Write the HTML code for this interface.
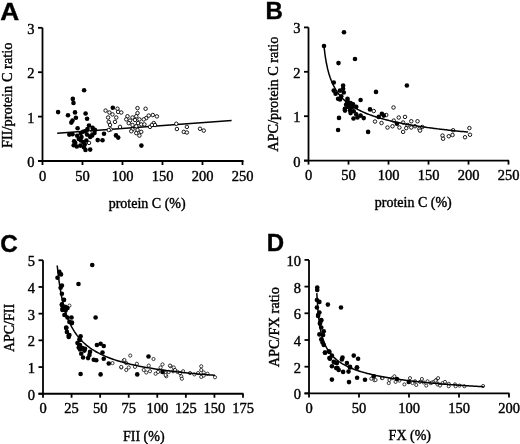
<!DOCTYPE html><html><head><meta charset="utf-8"><style>html,body{margin:0;padding:0;background:#fff;}svg{display:block;filter:grayscale(1);}text{font-family:"Liberation Serif",serif;fill:#000;stroke:#000;stroke-width:0.4px;}.pl{font-family:"Liberation Sans",sans-serif;font-weight:bold;}</style></head><body>
<svg width="520" height="444" viewBox="0 0 520 444">
<rect width="520" height="444" fill="#fff"/>
<text class="pl" transform="translate(0.3,19.6) scale(1.08,1)" font-size="24.3">A</text>
<text class="pl" x="265.5" y="19.4" font-size="24">B</text>
<text class="pl" x="0.2" y="252.1" font-size="24.3">C</text>
<text class="pl" x="266.7" y="251.3" font-size="24">D</text>
<line x1="42.5" y1="27.80000000000001" x2="42.5" y2="161" stroke="#000" stroke-width="1.8"/>
<line x1="38.0" y1="161" x2="243.5" y2="161" stroke="#000" stroke-width="1.8"/>
<line x1="38.0" y1="161.0" x2="42.5" y2="161.0" stroke="#000" stroke-width="1.8"/>
<line x1="38.0" y1="116.6" x2="42.5" y2="116.6" stroke="#000" stroke-width="1.8"/>
<line x1="38.0" y1="72.2" x2="42.5" y2="72.2" stroke="#000" stroke-width="1.8"/>
<line x1="38.0" y1="27.80000000000001" x2="42.5" y2="27.80000000000001" stroke="#000" stroke-width="1.8"/>
<line x1="42.5" y1="161" x2="42.5" y2="165" stroke="#000" stroke-width="1.8"/>
<line x1="82.5" y1="161" x2="82.5" y2="165" stroke="#000" stroke-width="1.8"/>
<line x1="122.5" y1="161" x2="122.5" y2="165" stroke="#000" stroke-width="1.8"/>
<line x1="162.5" y1="161" x2="162.5" y2="165" stroke="#000" stroke-width="1.8"/>
<line x1="202.5" y1="161" x2="202.5" y2="165" stroke="#000" stroke-width="1.8"/>
<line x1="242.5" y1="161" x2="242.5" y2="165" stroke="#000" stroke-width="1.8"/>
<text x="34.5" y="167.0" text-anchor="end" font-size="14.5">0</text>
<text x="34.5" y="122.6" text-anchor="end" font-size="14.5">1</text>
<text x="34.5" y="78.2" text-anchor="end" font-size="14.5">2</text>
<text x="34.5" y="33.80000000000001" text-anchor="end" font-size="14.5">3</text>
<text x="42.5" y="180.6" text-anchor="middle" font-size="14.5">0</text>
<text x="82.5" y="180.6" text-anchor="middle" font-size="14.5">50</text>
<text x="122.5" y="180.6" text-anchor="middle" font-size="14.5">100</text>
<text x="162.5" y="180.6" text-anchor="middle" font-size="14.5">150</text>
<text x="202.5" y="180.6" text-anchor="middle" font-size="14.5">200</text>
<text x="242.5" y="180.6" text-anchor="middle" font-size="14.5">250</text>
<line x1="308.5" y1="27.400000000000006" x2="308.5" y2="160.6" stroke="#000" stroke-width="1.8"/>
<line x1="304.0" y1="160.6" x2="509" y2="160.6" stroke="#000" stroke-width="1.8"/>
<line x1="304.0" y1="160.6" x2="308.5" y2="160.6" stroke="#000" stroke-width="1.8"/>
<line x1="304.0" y1="116.19999999999999" x2="308.5" y2="116.19999999999999" stroke="#000" stroke-width="1.8"/>
<line x1="304.0" y1="71.8" x2="308.5" y2="71.8" stroke="#000" stroke-width="1.8"/>
<line x1="304.0" y1="27.400000000000006" x2="308.5" y2="27.400000000000006" stroke="#000" stroke-width="1.8"/>
<line x1="308.5" y1="160.6" x2="308.5" y2="164.6" stroke="#000" stroke-width="1.8"/>
<line x1="348.5" y1="160.6" x2="348.5" y2="164.6" stroke="#000" stroke-width="1.8"/>
<line x1="388.5" y1="160.6" x2="388.5" y2="164.6" stroke="#000" stroke-width="1.8"/>
<line x1="428.5" y1="160.6" x2="428.5" y2="164.6" stroke="#000" stroke-width="1.8"/>
<line x1="468.5" y1="160.6" x2="468.5" y2="164.6" stroke="#000" stroke-width="1.8"/>
<line x1="508.5" y1="160.6" x2="508.5" y2="164.6" stroke="#000" stroke-width="1.8"/>
<text x="300.5" y="166.6" text-anchor="end" font-size="14.5">0</text>
<text x="300.5" y="122.19999999999999" text-anchor="end" font-size="14.5">1</text>
<text x="300.5" y="77.8" text-anchor="end" font-size="14.5">2</text>
<text x="300.5" y="33.400000000000006" text-anchor="end" font-size="14.5">3</text>
<text x="308.5" y="180.2" text-anchor="middle" font-size="14.5">0</text>
<text x="348.5" y="180.2" text-anchor="middle" font-size="14.5">50</text>
<text x="388.5" y="180.2" text-anchor="middle" font-size="14.5">100</text>
<text x="428.5" y="180.2" text-anchor="middle" font-size="14.5">150</text>
<text x="468.5" y="180.2" text-anchor="middle" font-size="14.5">200</text>
<text x="508.5" y="180.2" text-anchor="middle" font-size="14.5">250</text>
<line x1="43" y1="260.25" x2="43" y2="393.75" stroke="#000" stroke-width="1.8"/>
<line x1="38.5" y1="393.75" x2="243.5" y2="393.75" stroke="#000" stroke-width="1.8"/>
<line x1="38.5" y1="393.75" x2="43" y2="393.75" stroke="#000" stroke-width="1.8"/>
<line x1="38.5" y1="367.05" x2="43" y2="367.05" stroke="#000" stroke-width="1.8"/>
<line x1="38.5" y1="340.35" x2="43" y2="340.35" stroke="#000" stroke-width="1.8"/>
<line x1="38.5" y1="313.65" x2="43" y2="313.65" stroke="#000" stroke-width="1.8"/>
<line x1="38.5" y1="286.95" x2="43" y2="286.95" stroke="#000" stroke-width="1.8"/>
<line x1="38.5" y1="260.25" x2="43" y2="260.25" stroke="#000" stroke-width="1.8"/>
<line x1="43.0" y1="393.75" x2="43.0" y2="397.75" stroke="#000" stroke-width="1.8"/>
<line x1="71.57142857142857" y1="393.75" x2="71.57142857142857" y2="397.75" stroke="#000" stroke-width="1.8"/>
<line x1="100.14285714285714" y1="393.75" x2="100.14285714285714" y2="397.75" stroke="#000" stroke-width="1.8"/>
<line x1="128.71428571428572" y1="393.75" x2="128.71428571428572" y2="397.75" stroke="#000" stroke-width="1.8"/>
<line x1="157.28571428571428" y1="393.75" x2="157.28571428571428" y2="397.75" stroke="#000" stroke-width="1.8"/>
<line x1="185.85714285714286" y1="393.75" x2="185.85714285714286" y2="397.75" stroke="#000" stroke-width="1.8"/>
<line x1="214.42857142857142" y1="393.75" x2="214.42857142857142" y2="397.75" stroke="#000" stroke-width="1.8"/>
<line x1="243.0" y1="393.75" x2="243.0" y2="397.75" stroke="#000" stroke-width="1.8"/>
<text x="35" y="399.75" text-anchor="end" font-size="14.5">0</text>
<text x="35" y="373.05" text-anchor="end" font-size="14.5">1</text>
<text x="35" y="346.35" text-anchor="end" font-size="14.5">2</text>
<text x="35" y="319.65" text-anchor="end" font-size="14.5">3</text>
<text x="35" y="292.95" text-anchor="end" font-size="14.5">4</text>
<text x="35" y="266.25" text-anchor="end" font-size="14.5">5</text>
<text x="43.0" y="413.35" text-anchor="middle" font-size="14.5">0</text>
<text x="71.57142857142857" y="413.35" text-anchor="middle" font-size="14.5">25</text>
<text x="100.14285714285714" y="413.35" text-anchor="middle" font-size="14.5">50</text>
<text x="128.71428571428572" y="413.35" text-anchor="middle" font-size="14.5">75</text>
<text x="157.28571428571428" y="413.35" text-anchor="middle" font-size="14.5">100</text>
<text x="185.85714285714286" y="413.35" text-anchor="middle" font-size="14.5">125</text>
<text x="214.42857142857142" y="413.35" text-anchor="middle" font-size="14.5">150</text>
<text x="243.0" y="413.35" text-anchor="middle" font-size="14.5">175</text>
<line x1="309" y1="259.9" x2="309" y2="393.4" stroke="#000" stroke-width="1.8"/>
<line x1="304.5" y1="393.4" x2="509.5" y2="393.4" stroke="#000" stroke-width="1.8"/>
<line x1="304.5" y1="393.4" x2="309" y2="393.4" stroke="#000" stroke-width="1.8"/>
<line x1="304.5" y1="366.7" x2="309" y2="366.7" stroke="#000" stroke-width="1.8"/>
<line x1="304.5" y1="340.0" x2="309" y2="340.0" stroke="#000" stroke-width="1.8"/>
<line x1="304.5" y1="313.29999999999995" x2="309" y2="313.29999999999995" stroke="#000" stroke-width="1.8"/>
<line x1="304.5" y1="286.59999999999997" x2="309" y2="286.59999999999997" stroke="#000" stroke-width="1.8"/>
<line x1="304.5" y1="259.9" x2="309" y2="259.9" stroke="#000" stroke-width="1.8"/>
<line x1="309" y1="393.4" x2="309" y2="397.4" stroke="#000" stroke-width="1.8"/>
<line x1="359" y1="393.4" x2="359" y2="397.4" stroke="#000" stroke-width="1.8"/>
<line x1="409" y1="393.4" x2="409" y2="397.4" stroke="#000" stroke-width="1.8"/>
<line x1="459" y1="393.4" x2="459" y2="397.4" stroke="#000" stroke-width="1.8"/>
<line x1="509" y1="393.4" x2="509" y2="397.4" stroke="#000" stroke-width="1.8"/>
<text x="301" y="399.4" text-anchor="end" font-size="14.5">0</text>
<text x="301" y="372.7" text-anchor="end" font-size="14.5">2</text>
<text x="301" y="346.0" text-anchor="end" font-size="14.5">4</text>
<text x="301" y="319.29999999999995" text-anchor="end" font-size="14.5">6</text>
<text x="301" y="292.59999999999997" text-anchor="end" font-size="14.5">8</text>
<text x="301" y="265.9" text-anchor="end" font-size="14.5">10</text>
<text x="309" y="413.0" text-anchor="middle" font-size="14.5">0</text>
<text x="359" y="413.0" text-anchor="middle" font-size="14.5">50</text>
<text x="409" y="413.0" text-anchor="middle" font-size="14.5">100</text>
<text x="459" y="413.0" text-anchor="middle" font-size="14.5">150</text>
<text x="509" y="413.0" text-anchor="middle" font-size="14.5">200</text>
<text x="147.2" y="207.6" text-anchor="middle" font-size="14">protein C (%)</text>
<text x="413.3" y="207.3" text-anchor="middle" font-size="14">protein C (%)</text>
<text x="143.8" y="440.8" text-anchor="middle" font-size="14">FII (%)</text>
<text x="409.8" y="440.1" text-anchor="middle" font-size="14">FX (%)</text>
<text transform="translate(12.3,95.3) rotate(-90)" text-anchor="middle" font-size="14.4">FII/protein C ratio</text>
<text transform="translate(277.8,94.1) rotate(-90)" text-anchor="middle" font-size="14.3">APC/protein C ratio</text>
<text transform="translate(14.4,328) rotate(-90)" text-anchor="middle" font-size="14">APC/FII</text>
<text transform="translate(278.9,327.2) rotate(-90)" text-anchor="middle" font-size="14.4">APC/FX ratio</text>
<line x1="57.2" y1="133.2" x2="231.6" y2="120.5" stroke="#000" stroke-width="1.5"/>
<circle cx="89.0" cy="142.9" r="1.75" fill="#fff" stroke="#000" stroke-width="0.9"/>
<circle cx="105.6" cy="110.6" r="1.75" fill="#fff" stroke="#000" stroke-width="0.9"/>
<circle cx="109.4" cy="112.5" r="1.75" fill="#fff" stroke="#000" stroke-width="0.9"/>
<circle cx="117.5" cy="108.75" r="1.75" fill="#fff" stroke="#000" stroke-width="0.9"/>
<circle cx="118.1" cy="111.9" r="1.75" fill="#fff" stroke="#000" stroke-width="0.9"/>
<circle cx="121.25" cy="112.5" r="1.75" fill="#fff" stroke="#000" stroke-width="0.9"/>
<circle cx="112.5" cy="114.4" r="1.75" fill="#fff" stroke="#000" stroke-width="0.9"/>
<circle cx="108.1" cy="117.5" r="1.75" fill="#fff" stroke="#000" stroke-width="0.9"/>
<circle cx="116.25" cy="117.5" r="1.75" fill="#fff" stroke="#000" stroke-width="0.9"/>
<circle cx="108.75" cy="121.9" r="1.75" fill="#fff" stroke="#000" stroke-width="0.9"/>
<circle cx="115" cy="121.9" r="1.75" fill="#fff" stroke="#000" stroke-width="0.9"/>
<circle cx="110" cy="125" r="1.75" fill="#fff" stroke="#000" stroke-width="0.9"/>
<circle cx="120" cy="126.9" r="1.75" fill="#fff" stroke="#000" stroke-width="0.9"/>
<circle cx="110.6" cy="129.4" r="1.75" fill="#fff" stroke="#000" stroke-width="0.9"/>
<circle cx="108.75" cy="130" r="1.75" fill="#fff" stroke="#000" stroke-width="0.9"/>
<circle cx="137.5" cy="108.1" r="1.75" fill="#fff" stroke="#000" stroke-width="0.9"/>
<circle cx="145.6" cy="108.75" r="1.75" fill="#fff" stroke="#000" stroke-width="0.9"/>
<circle cx="137.5" cy="113.1" r="1.75" fill="#fff" stroke="#000" stroke-width="0.9"/>
<circle cx="127.5" cy="116.25" r="1.75" fill="#fff" stroke="#000" stroke-width="0.9"/>
<circle cx="132.5" cy="117.5" r="1.75" fill="#fff" stroke="#000" stroke-width="0.9"/>
<circle cx="136.25" cy="116.25" r="1.75" fill="#fff" stroke="#000" stroke-width="0.9"/>
<circle cx="126.25" cy="119.4" r="1.75" fill="#fff" stroke="#000" stroke-width="0.9"/>
<circle cx="130" cy="120.6" r="1.75" fill="#fff" stroke="#000" stroke-width="0.9"/>
<circle cx="135" cy="120" r="1.75" fill="#fff" stroke="#000" stroke-width="0.9"/>
<circle cx="139.4" cy="119.4" r="1.75" fill="#fff" stroke="#000" stroke-width="0.9"/>
<circle cx="128.75" cy="123.1" r="1.75" fill="#fff" stroke="#000" stroke-width="0.9"/>
<circle cx="132.5" cy="125" r="1.75" fill="#fff" stroke="#000" stroke-width="0.9"/>
<circle cx="138.1" cy="123.1" r="1.75" fill="#fff" stroke="#000" stroke-width="0.9"/>
<circle cx="141.25" cy="124.4" r="1.75" fill="#fff" stroke="#000" stroke-width="0.9"/>
<circle cx="136.25" cy="126.25" r="1.75" fill="#fff" stroke="#000" stroke-width="0.9"/>
<circle cx="132.5" cy="129.4" r="1.75" fill="#fff" stroke="#000" stroke-width="0.9"/>
<circle cx="131.25" cy="131.25" r="1.75" fill="#fff" stroke="#000" stroke-width="0.9"/>
<circle cx="137.5" cy="130" r="1.75" fill="#fff" stroke="#000" stroke-width="0.9"/>
<circle cx="141.25" cy="131.9" r="1.75" fill="#fff" stroke="#000" stroke-width="0.9"/>
<circle cx="136.25" cy="133.1" r="1.75" fill="#fff" stroke="#000" stroke-width="0.9"/>
<circle cx="139.4" cy="135.6" r="1.75" fill="#fff" stroke="#000" stroke-width="0.9"/>
<circle cx="144.4" cy="124.4" r="1.75" fill="#fff" stroke="#000" stroke-width="0.9"/>
<circle cx="146.25" cy="118.1" r="1.75" fill="#fff" stroke="#000" stroke-width="0.9"/>
<circle cx="148.75" cy="115.6" r="1.75" fill="#fff" stroke="#000" stroke-width="0.9"/>
<circle cx="152.8" cy="115" r="1.75" fill="#fff" stroke="#000" stroke-width="0.9"/>
<circle cx="156.9" cy="116.4" r="1.75" fill="#fff" stroke="#000" stroke-width="0.9"/>
<circle cx="150" cy="126.9" r="1.75" fill="#fff" stroke="#000" stroke-width="0.9"/>
<circle cx="153.75" cy="123.1" r="1.75" fill="#fff" stroke="#000" stroke-width="0.9"/>
<circle cx="155" cy="125" r="1.75" fill="#fff" stroke="#000" stroke-width="0.9"/>
<circle cx="143.75" cy="119.4" r="1.75" fill="#fff" stroke="#000" stroke-width="0.9"/>
<circle cx="151.9" cy="125" r="1.75" fill="#fff" stroke="#000" stroke-width="0.9"/>
<circle cx="176.25" cy="123.75" r="1.75" fill="#fff" stroke="#000" stroke-width="0.9"/>
<circle cx="176.9" cy="129" r="1.75" fill="#fff" stroke="#000" stroke-width="0.9"/>
<circle cx="186.9" cy="126.9" r="1.75" fill="#fff" stroke="#000" stroke-width="0.9"/>
<circle cx="183.75" cy="131.9" r="1.75" fill="#fff" stroke="#000" stroke-width="0.9"/>
<circle cx="186.9" cy="132.5" r="1.75" fill="#fff" stroke="#000" stroke-width="0.9"/>
<circle cx="200" cy="128.75" r="1.75" fill="#fff" stroke="#000" stroke-width="0.9"/>
<circle cx="203.75" cy="130.6" r="1.75" fill="#fff" stroke="#000" stroke-width="0.9"/>
<circle cx="84.1" cy="90.2" r="2.3" fill="#000"/>
<circle cx="72.8" cy="98.9" r="2.3" fill="#000"/>
<circle cx="73.5" cy="103" r="2.3" fill="#000"/>
<circle cx="58.1" cy="112.1" r="2.3" fill="#000"/>
<circle cx="68" cy="115.3" r="2.3" fill="#000"/>
<circle cx="75" cy="112.4" r="2.3" fill="#000"/>
<circle cx="85.6" cy="113.5" r="2.3" fill="#000"/>
<circle cx="75.9" cy="117.7" r="2.3" fill="#000"/>
<circle cx="87.1" cy="118.7" r="2.3" fill="#000"/>
<circle cx="72.5" cy="120.6" r="2.3" fill="#000"/>
<circle cx="104" cy="133.7" r="2.3" fill="#000"/>
<circle cx="102.5" cy="140.3" r="2.3" fill="#000"/>
<circle cx="112.8" cy="107.8" r="2.3" fill="#000"/>
<circle cx="116" cy="135.4" r="2.3" fill="#000"/>
<circle cx="118.2" cy="137.6" r="2.3" fill="#000"/>
<circle cx="141.4" cy="145.6" r="2.3" fill="#000"/>
<circle cx="71.3" cy="122.6" r="2.3" fill="#000"/>
<circle cx="77.6" cy="128.3" r="2.3" fill="#000"/>
<circle cx="69.3" cy="134.6" r="2.3" fill="#000"/>
<circle cx="72.5" cy="134.2" r="2.3" fill="#000"/>
<circle cx="89" cy="125.5" r="2.3" fill="#000"/>
<circle cx="92.6" cy="127.9" r="2.3" fill="#000"/>
<circle cx="94.9" cy="129.9" r="2.3" fill="#000"/>
<circle cx="94.5" cy="133" r="2.3" fill="#000"/>
<circle cx="92.2" cy="135.4" r="2.3" fill="#000"/>
<circle cx="90.2" cy="136.9" r="2.3" fill="#000"/>
<circle cx="87.1" cy="134.6" r="2.3" fill="#000"/>
<circle cx="85.5" cy="131" r="2.3" fill="#000"/>
<circle cx="87.5" cy="129" r="2.3" fill="#000"/>
<circle cx="83.1" cy="131.8" r="2.3" fill="#000"/>
<circle cx="80.8" cy="133" r="2.3" fill="#000"/>
<circle cx="77.2" cy="135.8" r="2.3" fill="#000"/>
<circle cx="78.8" cy="138.9" r="2.3" fill="#000"/>
<circle cx="74.1" cy="141.3" r="2.3" fill="#000"/>
<circle cx="80.8" cy="140.5" r="2.3" fill="#000"/>
<circle cx="83.1" cy="142.1" r="2.3" fill="#000"/>
<circle cx="84.7" cy="144.4" r="2.3" fill="#000"/>
<circle cx="73.7" cy="145.2" r="2.3" fill="#000"/>
<circle cx="76.8" cy="146.5" r="2.3" fill="#000"/>
<circle cx="80.4" cy="145.6" r="2.3" fill="#000"/>
<circle cx="83.9" cy="147.2" r="2.3" fill="#000"/>
<circle cx="85.5" cy="150" r="2.3" fill="#000"/>
<circle cx="90.2" cy="149.6" r="2.3" fill="#000"/>
<circle cx="75.2" cy="142.9" r="2.3" fill="#000"/>
<circle cx="97.7" cy="140.1" r="2.3" fill="#000"/>
<circle cx="81.5" cy="137" r="2.3" fill="#000"/>
<circle cx="86.3" cy="140.5" r="2.3" fill="#000"/>
<circle cx="89.6" cy="132.6" r="1.75" fill="#fff" stroke="#000" stroke-width="0.9"/>
<circle cx="393.5" cy="107.5" r="1.75" fill="#fff" stroke="#000" stroke-width="0.9"/>
<circle cx="373.75" cy="111" r="1.75" fill="#fff" stroke="#000" stroke-width="0.9"/>
<circle cx="386.25" cy="115" r="1.75" fill="#fff" stroke="#000" stroke-width="0.9"/>
<circle cx="375" cy="121.5" r="1.75" fill="#fff" stroke="#000" stroke-width="0.9"/>
<circle cx="381.5" cy="123" r="1.75" fill="#fff" stroke="#000" stroke-width="0.9"/>
<circle cx="387.5" cy="127.5" r="1.75" fill="#fff" stroke="#000" stroke-width="0.9"/>
<circle cx="392.5" cy="126.25" r="1.75" fill="#fff" stroke="#000" stroke-width="0.9"/>
<circle cx="398.75" cy="117.5" r="1.75" fill="#fff" stroke="#000" stroke-width="0.9"/>
<circle cx="405" cy="116.9" r="1.75" fill="#fff" stroke="#000" stroke-width="0.9"/>
<circle cx="393.75" cy="120.6" r="1.75" fill="#fff" stroke="#000" stroke-width="0.9"/>
<circle cx="403.1" cy="122.5" r="1.75" fill="#fff" stroke="#000" stroke-width="0.9"/>
<circle cx="399.4" cy="127.5" r="1.75" fill="#fff" stroke="#000" stroke-width="0.9"/>
<circle cx="403.1" cy="131.9" r="1.75" fill="#fff" stroke="#000" stroke-width="0.9"/>
<circle cx="406.25" cy="128.1" r="1.75" fill="#fff" stroke="#000" stroke-width="0.9"/>
<circle cx="411.25" cy="121.25" r="1.75" fill="#fff" stroke="#000" stroke-width="0.9"/>
<circle cx="417.5" cy="121.25" r="1.75" fill="#fff" stroke="#000" stroke-width="0.9"/>
<circle cx="411.25" cy="127.5" r="1.75" fill="#fff" stroke="#000" stroke-width="0.9"/>
<circle cx="415" cy="126.25" r="1.75" fill="#fff" stroke="#000" stroke-width="0.9"/>
<circle cx="419.4" cy="128.75" r="1.75" fill="#fff" stroke="#000" stroke-width="0.9"/>
<circle cx="422.3" cy="127" r="1.75" fill="#fff" stroke="#000" stroke-width="0.9"/>
<circle cx="420" cy="130.6" r="1.75" fill="#fff" stroke="#000" stroke-width="0.9"/>
<circle cx="407.5" cy="125" r="1.75" fill="#fff" stroke="#000" stroke-width="0.9"/>
<circle cx="453.1" cy="130.25" r="1.75" fill="#fff" stroke="#000" stroke-width="0.9"/>
<circle cx="442.5" cy="135.6" r="1.75" fill="#fff" stroke="#000" stroke-width="0.9"/>
<circle cx="443.1" cy="138.75" r="1.75" fill="#fff" stroke="#000" stroke-width="0.9"/>
<circle cx="448.75" cy="136.25" r="1.75" fill="#fff" stroke="#000" stroke-width="0.9"/>
<circle cx="452.5" cy="135" r="1.75" fill="#fff" stroke="#000" stroke-width="0.9"/>
<circle cx="465" cy="137.25" r="1.75" fill="#fff" stroke="#000" stroke-width="0.9"/>
<circle cx="469.4" cy="128.1" r="1.75" fill="#fff" stroke="#000" stroke-width="0.9"/>
<circle cx="470" cy="134.75" r="1.75" fill="#fff" stroke="#000" stroke-width="0.9"/>
<circle cx="344" cy="32.3" r="2.3" fill="#000"/>
<circle cx="324" cy="46" r="2.3" fill="#000"/>
<circle cx="338.5" cy="63.1" r="2.3" fill="#000"/>
<circle cx="355" cy="59" r="2.3" fill="#000"/>
<circle cx="376" cy="91.9" r="2.3" fill="#000"/>
<circle cx="406.9" cy="85.5" r="2.3" fill="#000"/>
<circle cx="333.75" cy="82.5" r="2.3" fill="#000"/>
<circle cx="343.1" cy="85.6" r="2.3" fill="#000"/>
<circle cx="343.1" cy="88.75" r="2.3" fill="#000"/>
<circle cx="340" cy="90.6" r="2.3" fill="#000"/>
<circle cx="333.75" cy="90.6" r="2.3" fill="#000"/>
<circle cx="335.6" cy="93.75" r="2.3" fill="#000"/>
<circle cx="343.75" cy="92.5" r="2.3" fill="#000"/>
<circle cx="341.25" cy="96.25" r="2.3" fill="#000"/>
<circle cx="338.1" cy="98.75" r="2.3" fill="#000"/>
<circle cx="340" cy="99.4" r="2.3" fill="#000"/>
<circle cx="347.5" cy="98.75" r="2.3" fill="#000"/>
<circle cx="360.6" cy="100" r="2.3" fill="#000"/>
<circle cx="346.9" cy="103.75" r="2.3" fill="#000"/>
<circle cx="350.6" cy="103.1" r="2.3" fill="#000"/>
<circle cx="353.1" cy="104.4" r="2.3" fill="#000"/>
<circle cx="348.1" cy="106.9" r="2.3" fill="#000"/>
<circle cx="351.9" cy="107.5" r="2.3" fill="#000"/>
<circle cx="356.25" cy="106.9" r="2.3" fill="#000"/>
<circle cx="345" cy="110.6" r="2.3" fill="#000"/>
<circle cx="350" cy="110.6" r="2.3" fill="#000"/>
<circle cx="353.75" cy="111.25" r="2.3" fill="#000"/>
<circle cx="350.6" cy="113.1" r="2.3" fill="#000"/>
<circle cx="339" cy="117.9" r="2.3" fill="#000"/>
<circle cx="353.5" cy="118.5" r="2.3" fill="#000"/>
<circle cx="357.5" cy="117.5" r="2.3" fill="#000"/>
<circle cx="360.6" cy="115.6" r="2.3" fill="#000"/>
<circle cx="363.75" cy="118.1" r="2.3" fill="#000"/>
<circle cx="356.25" cy="114.4" r="2.3" fill="#000"/>
<circle cx="370" cy="109.4" r="2.3" fill="#000"/>
<circle cx="381.9" cy="113.75" r="2.3" fill="#000"/>
<circle cx="378.75" cy="116.9" r="2.3" fill="#000"/>
<circle cx="383.75" cy="115.6" r="2.3" fill="#000"/>
<circle cx="338.1" cy="130" r="2.3" fill="#000"/>
<circle cx="368.1" cy="131.9" r="2.3" fill="#000"/>
<circle cx="396.9" cy="123.75" r="2.3" fill="#000"/>
<circle cx="346.1" cy="104.8" r="2.3" fill="#000"/>
<circle cx="347.5" cy="100.8" r="2.3" fill="#000"/>
<circle cx="344.8" cy="108.9" r="2.3" fill="#000"/>
<circle cx="69.4" cy="305.6" r="1.6" fill="#fff" stroke="#000" stroke-width="0.75"/>
<circle cx="112.5" cy="363.1" r="1.6" fill="#fff" stroke="#000" stroke-width="0.75"/>
<circle cx="121.25" cy="367.5" r="1.6" fill="#fff" stroke="#000" stroke-width="0.75"/>
<circle cx="123.75" cy="360.6" r="1.6" fill="#fff" stroke="#000" stroke-width="0.75"/>
<circle cx="130.25" cy="355.6" r="1.6" fill="#fff" stroke="#000" stroke-width="0.75"/>
<circle cx="153.5" cy="359" r="1.6" fill="#fff" stroke="#000" stroke-width="0.75"/>
<circle cx="124.4" cy="360" r="1.6" fill="#fff" stroke="#000" stroke-width="0.75"/>
<circle cx="126.25" cy="363.1" r="1.6" fill="#fff" stroke="#000" stroke-width="0.75"/>
<circle cx="121.25" cy="366.9" r="1.6" fill="#fff" stroke="#000" stroke-width="0.75"/>
<circle cx="126.25" cy="370" r="1.6" fill="#fff" stroke="#000" stroke-width="0.75"/>
<circle cx="128.75" cy="367.5" r="1.6" fill="#fff" stroke="#000" stroke-width="0.75"/>
<circle cx="135" cy="366.9" r="1.6" fill="#fff" stroke="#000" stroke-width="0.75"/>
<circle cx="136.9" cy="363.75" r="1.6" fill="#fff" stroke="#000" stroke-width="0.75"/>
<circle cx="143.75" cy="370" r="1.6" fill="#fff" stroke="#000" stroke-width="0.75"/>
<circle cx="146.25" cy="372.5" r="1.6" fill="#fff" stroke="#000" stroke-width="0.75"/>
<circle cx="148.75" cy="365.6" r="1.6" fill="#fff" stroke="#000" stroke-width="0.75"/>
<circle cx="150" cy="371.25" r="1.6" fill="#fff" stroke="#000" stroke-width="0.75"/>
<circle cx="155.6" cy="373.75" r="1.6" fill="#fff" stroke="#000" stroke-width="0.75"/>
<circle cx="158.1" cy="371.9" r="1.6" fill="#fff" stroke="#000" stroke-width="0.75"/>
<circle cx="160.6" cy="367.5" r="1.6" fill="#fff" stroke="#000" stroke-width="0.75"/>
<circle cx="162.5" cy="364.4" r="1.6" fill="#fff" stroke="#000" stroke-width="0.75"/>
<circle cx="165.6" cy="373.1" r="1.6" fill="#fff" stroke="#000" stroke-width="0.75"/>
<circle cx="166.25" cy="376.25" r="1.6" fill="#fff" stroke="#000" stroke-width="0.75"/>
<circle cx="170.6" cy="366.25" r="1.6" fill="#fff" stroke="#000" stroke-width="0.75"/>
<circle cx="173.75" cy="367.5" r="1.6" fill="#fff" stroke="#000" stroke-width="0.75"/>
<circle cx="173.1" cy="371.25" r="1.6" fill="#fff" stroke="#000" stroke-width="0.75"/>
<circle cx="170" cy="365.6" r="1.6" fill="#fff" stroke="#000" stroke-width="0.75"/>
<circle cx="168.75" cy="371.9" r="1.6" fill="#fff" stroke="#000" stroke-width="0.75"/>
<circle cx="165.6" cy="375" r="1.6" fill="#fff" stroke="#000" stroke-width="0.75"/>
<circle cx="175" cy="370" r="1.6" fill="#fff" stroke="#000" stroke-width="0.75"/>
<circle cx="177.5" cy="371.9" r="1.6" fill="#fff" stroke="#000" stroke-width="0.75"/>
<circle cx="180" cy="373.1" r="1.6" fill="#fff" stroke="#000" stroke-width="0.75"/>
<circle cx="183.1" cy="371.25" r="1.6" fill="#fff" stroke="#000" stroke-width="0.75"/>
<circle cx="181.25" cy="376.25" r="1.6" fill="#fff" stroke="#000" stroke-width="0.75"/>
<circle cx="181.9" cy="378.75" r="1.6" fill="#fff" stroke="#000" stroke-width="0.75"/>
<circle cx="190" cy="373.1" r="1.6" fill="#fff" stroke="#000" stroke-width="0.75"/>
<circle cx="194.4" cy="374.4" r="1.6" fill="#fff" stroke="#000" stroke-width="0.75"/>
<circle cx="198.1" cy="373.1" r="1.6" fill="#fff" stroke="#000" stroke-width="0.75"/>
<circle cx="201.25" cy="366.25" r="1.6" fill="#fff" stroke="#000" stroke-width="0.75"/>
<circle cx="201.25" cy="370" r="1.6" fill="#fff" stroke="#000" stroke-width="0.75"/>
<circle cx="203.75" cy="372.5" r="1.6" fill="#fff" stroke="#000" stroke-width="0.75"/>
<circle cx="201.25" cy="376.9" r="1.6" fill="#fff" stroke="#000" stroke-width="0.75"/>
<circle cx="203.75" cy="375.6" r="1.6" fill="#fff" stroke="#000" stroke-width="0.75"/>
<circle cx="207.5" cy="373.75" r="1.6" fill="#fff" stroke="#000" stroke-width="0.75"/>
<circle cx="215" cy="377.25" r="1.6" fill="#fff" stroke="#000" stroke-width="0.75"/>
<circle cx="92.25" cy="265" r="2.3" fill="#000"/>
<circle cx="78.5" cy="284" r="2.3" fill="#000"/>
<circle cx="59.4" cy="271.9" r="2.3" fill="#000"/>
<circle cx="61" cy="274.4" r="2.3" fill="#000"/>
<circle cx="57.5" cy="277.75" r="2.3" fill="#000"/>
<circle cx="61.9" cy="285.6" r="2.3" fill="#000"/>
<circle cx="60.6" cy="287.75" r="2.3" fill="#000"/>
<circle cx="61.9" cy="293.75" r="2.3" fill="#000"/>
<circle cx="63.75" cy="300" r="2.3" fill="#000"/>
<circle cx="61.9" cy="305" r="2.3" fill="#000"/>
<circle cx="65.6" cy="307.5" r="2.3" fill="#000"/>
<circle cx="62.5" cy="308.75" r="2.3" fill="#000"/>
<circle cx="64" cy="299.75" r="2.3" fill="#000"/>
<circle cx="61.9" cy="304.4" r="2.3" fill="#000"/>
<circle cx="65" cy="306.9" r="2.3" fill="#000"/>
<circle cx="67.5" cy="308.1" r="2.3" fill="#000"/>
<circle cx="62.5" cy="310" r="2.3" fill="#000"/>
<circle cx="65.6" cy="310.6" r="2.3" fill="#000"/>
<circle cx="64.4" cy="315" r="2.3" fill="#000"/>
<circle cx="67.5" cy="317.5" r="2.3" fill="#000"/>
<circle cx="71.5" cy="317.5" r="2.3" fill="#000"/>
<circle cx="69.4" cy="321.9" r="2.3" fill="#000"/>
<circle cx="71.9" cy="323.1" r="2.3" fill="#000"/>
<circle cx="66.25" cy="328.1" r="2.3" fill="#000"/>
<circle cx="66.9" cy="331.9" r="2.3" fill="#000"/>
<circle cx="69.4" cy="335" r="2.3" fill="#000"/>
<circle cx="68.75" cy="336.9" r="2.3" fill="#000"/>
<circle cx="95.6" cy="317.5" r="2.3" fill="#000"/>
<circle cx="80.6" cy="336.25" r="2.3" fill="#000"/>
<circle cx="79.4" cy="339.4" r="2.3" fill="#000"/>
<circle cx="77.5" cy="343.1" r="2.3" fill="#000"/>
<circle cx="80" cy="345" r="2.3" fill="#000"/>
<circle cx="78.75" cy="347.5" r="2.3" fill="#000"/>
<circle cx="82.5" cy="348.1" r="2.3" fill="#000"/>
<circle cx="96.9" cy="345" r="2.3" fill="#000"/>
<circle cx="100.6" cy="343.75" r="2.3" fill="#000"/>
<circle cx="103.75" cy="346" r="2.3" fill="#000"/>
<circle cx="71.9" cy="322.5" r="2.3" fill="#000"/>
<circle cx="66.25" cy="327.5" r="2.3" fill="#000"/>
<circle cx="68.75" cy="335.6" r="2.3" fill="#000"/>
<circle cx="80" cy="340" r="2.3" fill="#000"/>
<circle cx="79.4" cy="346.25" r="2.3" fill="#000"/>
<circle cx="80" cy="349.4" r="2.3" fill="#000"/>
<circle cx="85" cy="348.75" r="2.3" fill="#000"/>
<circle cx="84.4" cy="350.6" r="2.3" fill="#000"/>
<circle cx="90" cy="351.9" r="2.3" fill="#000"/>
<circle cx="89.4" cy="355" r="2.3" fill="#000"/>
<circle cx="88.1" cy="358.1" r="2.3" fill="#000"/>
<circle cx="81.25" cy="353.75" r="2.3" fill="#000"/>
<circle cx="83.1" cy="357.5" r="2.3" fill="#000"/>
<circle cx="93.75" cy="359.75" r="2.3" fill="#000"/>
<circle cx="96.25" cy="360.25" r="2.3" fill="#000"/>
<circle cx="102.5" cy="352.5" r="2.3" fill="#000"/>
<circle cx="103.75" cy="358.75" r="2.3" fill="#000"/>
<circle cx="108.75" cy="363.5" r="2.3" fill="#000"/>
<circle cx="80.6" cy="374" r="2.3" fill="#000"/>
<circle cx="100.6" cy="374.4" r="2.3" fill="#000"/>
<circle cx="148.5" cy="356.5" r="2.3" fill="#000"/>
<circle cx="137.25" cy="374.4" r="2.3" fill="#000"/>
<circle cx="162.5" cy="371.9" r="2.3" fill="#000"/>
<circle cx="374.4" cy="380.25" r="1.55" fill="#fff" stroke="#000" stroke-width="0.75"/>
<circle cx="371.25" cy="378.75" r="1.55" fill="#fff" stroke="#000" stroke-width="0.75"/>
<circle cx="381.9" cy="378.1" r="1.55" fill="#fff" stroke="#000" stroke-width="0.75"/>
<circle cx="375.6" cy="380" r="1.55" fill="#fff" stroke="#000" stroke-width="0.75"/>
<circle cx="382.5" cy="378.1" r="1.55" fill="#fff" stroke="#000" stroke-width="0.75"/>
<circle cx="389.4" cy="380" r="1.55" fill="#fff" stroke="#000" stroke-width="0.75"/>
<circle cx="388.75" cy="383.1" r="1.55" fill="#fff" stroke="#000" stroke-width="0.75"/>
<circle cx="392.5" cy="378.1" r="1.55" fill="#fff" stroke="#000" stroke-width="0.75"/>
<circle cx="394.4" cy="376.25" r="1.55" fill="#fff" stroke="#000" stroke-width="0.75"/>
<circle cx="395.6" cy="381.9" r="1.55" fill="#fff" stroke="#000" stroke-width="0.75"/>
<circle cx="399.4" cy="380.6" r="1.55" fill="#fff" stroke="#000" stroke-width="0.75"/>
<circle cx="404.4" cy="384.4" r="1.55" fill="#fff" stroke="#000" stroke-width="0.75"/>
<circle cx="410" cy="378.1" r="1.55" fill="#fff" stroke="#000" stroke-width="0.75"/>
<circle cx="412.5" cy="383.1" r="1.55" fill="#fff" stroke="#000" stroke-width="0.75"/>
<circle cx="416.25" cy="385" r="1.55" fill="#fff" stroke="#000" stroke-width="0.75"/>
<circle cx="420" cy="381.9" r="1.55" fill="#fff" stroke="#000" stroke-width="0.75"/>
<circle cx="421.9" cy="379" r="1.55" fill="#fff" stroke="#000" stroke-width="0.75"/>
<circle cx="423.75" cy="382.5" r="1.55" fill="#fff" stroke="#000" stroke-width="0.75"/>
<circle cx="426.25" cy="385.6" r="1.55" fill="#fff" stroke="#000" stroke-width="0.75"/>
<circle cx="427.5" cy="381.25" r="1.55" fill="#fff" stroke="#000" stroke-width="0.75"/>
<circle cx="430.6" cy="383.1" r="1.55" fill="#fff" stroke="#000" stroke-width="0.75"/>
<circle cx="433.75" cy="381.9" r="1.55" fill="#fff" stroke="#000" stroke-width="0.75"/>
<circle cx="436.25" cy="380" r="1.55" fill="#fff" stroke="#000" stroke-width="0.75"/>
<circle cx="438.1" cy="383.75" r="1.55" fill="#fff" stroke="#000" stroke-width="0.75"/>
<circle cx="415" cy="381.25" r="1.55" fill="#fff" stroke="#000" stroke-width="0.75"/>
<circle cx="431.9" cy="382.5" r="1.55" fill="#fff" stroke="#000" stroke-width="0.75"/>
<circle cx="435.6" cy="380.6" r="1.55" fill="#fff" stroke="#000" stroke-width="0.75"/>
<circle cx="438.1" cy="378.1" r="1.55" fill="#fff" stroke="#000" stroke-width="0.75"/>
<circle cx="437.5" cy="384.4" r="1.55" fill="#fff" stroke="#000" stroke-width="0.75"/>
<circle cx="440" cy="385.6" r="1.55" fill="#fff" stroke="#000" stroke-width="0.75"/>
<circle cx="442.5" cy="383.1" r="1.55" fill="#fff" stroke="#000" stroke-width="0.75"/>
<circle cx="445" cy="381.9" r="1.55" fill="#fff" stroke="#000" stroke-width="0.75"/>
<circle cx="448.75" cy="383.75" r="1.55" fill="#fff" stroke="#000" stroke-width="0.75"/>
<circle cx="448.75" cy="386.25" r="1.55" fill="#fff" stroke="#000" stroke-width="0.75"/>
<circle cx="455" cy="384.4" r="1.55" fill="#fff" stroke="#000" stroke-width="0.75"/>
<circle cx="455.6" cy="386.25" r="1.55" fill="#fff" stroke="#000" stroke-width="0.75"/>
<circle cx="459.4" cy="385.6" r="1.55" fill="#fff" stroke="#000" stroke-width="0.75"/>
<circle cx="464.4" cy="386.25" r="1.55" fill="#fff" stroke="#000" stroke-width="0.75"/>
<circle cx="483.1" cy="386" r="1.55" fill="#fff" stroke="#000" stroke-width="0.75"/>
<circle cx="317.25" cy="287.5" r="2.3" fill="#000"/>
<circle cx="317.25" cy="290" r="2.3" fill="#000"/>
<circle cx="316.9" cy="300" r="2.3" fill="#000"/>
<circle cx="319.4" cy="301.9" r="2.3" fill="#000"/>
<circle cx="316.9" cy="307.5" r="2.3" fill="#000"/>
<circle cx="319.4" cy="312.5" r="2.3" fill="#000"/>
<circle cx="318.1" cy="315" r="2.3" fill="#000"/>
<circle cx="321.25" cy="320" r="2.3" fill="#000"/>
<circle cx="320" cy="323.1" r="2.3" fill="#000"/>
<circle cx="327.9" cy="304.6" r="2.3" fill="#000"/>
<circle cx="341" cy="307.5" r="2.3" fill="#000"/>
<circle cx="318.1" cy="316" r="2.3" fill="#000"/>
<circle cx="321.25" cy="320.6" r="2.3" fill="#000"/>
<circle cx="320" cy="323.75" r="2.3" fill="#000"/>
<circle cx="321.25" cy="327.5" r="2.3" fill="#000"/>
<circle cx="323.75" cy="331.25" r="2.3" fill="#000"/>
<circle cx="319.4" cy="334.4" r="2.3" fill="#000"/>
<circle cx="323.1" cy="335" r="2.3" fill="#000"/>
<circle cx="321.25" cy="339.4" r="2.3" fill="#000"/>
<circle cx="322.5" cy="342.5" r="2.3" fill="#000"/>
<circle cx="323.75" cy="345" r="2.3" fill="#000"/>
<circle cx="325" cy="352.5" r="2.3" fill="#000"/>
<circle cx="329.4" cy="351.9" r="2.3" fill="#000"/>
<circle cx="331.9" cy="355.6" r="2.3" fill="#000"/>
<circle cx="330" cy="358.75" r="2.3" fill="#000"/>
<circle cx="333.75" cy="361.9" r="2.3" fill="#000"/>
<circle cx="336.9" cy="363.1" r="2.3" fill="#000"/>
<circle cx="331.9" cy="366.25" r="2.3" fill="#000"/>
<circle cx="337.5" cy="368.1" r="2.3" fill="#000"/>
<circle cx="342.5" cy="357.5" r="2.3" fill="#000"/>
<circle cx="341.9" cy="359.4" r="2.3" fill="#000"/>
<circle cx="346.9" cy="363.1" r="2.3" fill="#000"/>
<circle cx="353.75" cy="355.6" r="2.3" fill="#000"/>
<circle cx="358.1" cy="358.75" r="2.3" fill="#000"/>
<circle cx="350" cy="366.9" r="2.3" fill="#000"/>
<circle cx="356.9" cy="367.5" r="2.3" fill="#000"/>
<circle cx="325" cy="352.75" r="2.3" fill="#000"/>
<circle cx="328.75" cy="351.25" r="2.3" fill="#000"/>
<circle cx="329.4" cy="358.1" r="2.3" fill="#000"/>
<circle cx="335" cy="362.5" r="2.3" fill="#000"/>
<circle cx="336.25" cy="368.1" r="2.3" fill="#000"/>
<circle cx="338.75" cy="370" r="2.3" fill="#000"/>
<circle cx="343.1" cy="371.9" r="2.3" fill="#000"/>
<circle cx="350" cy="367.5" r="2.3" fill="#000"/>
<circle cx="348.5" cy="371.6" r="2.3" fill="#000"/>
<circle cx="357.1" cy="367.5" r="2.3" fill="#000"/>
<circle cx="331.9" cy="379.6" r="2.3" fill="#000"/>
<circle cx="349" cy="382.1" r="2.3" fill="#000"/>
<circle cx="357.1" cy="377.75" r="2.3" fill="#000"/>
<circle cx="365" cy="379.75" r="2.3" fill="#000"/>
<circle cx="373.75" cy="376.25" r="2.3" fill="#000"/>
<circle cx="408.75" cy="381.9" r="2.3" fill="#000"/>
<circle cx="396.9" cy="379" r="2.3" fill="#000"/>
<path d="M324.00,46.33 L325.21,56.08 L326.42,63.26 L327.63,68.88 L328.84,73.45 L330.05,77.28 L331.27,80.55 L332.48,83.40 L333.69,85.91 L334.90,88.15 L336.11,90.17 L337.32,92.00 L338.53,93.68 L339.74,95.22 L340.95,96.64 L342.16,97.96 L343.37,99.19 L344.59,100.34 L345.80,101.42 L347.01,102.43 L348.22,103.39 L349.43,104.30 L350.64,105.16 L351.85,105.98 L353.06,106.76 L354.27,107.50 L355.48,108.21 L356.69,108.89 L357.91,109.54 L359.12,110.17 L360.33,110.77 L361.54,111.35 L362.75,111.90 L363.96,112.44 L365.17,112.96 L366.38,113.46 L367.59,113.94 L368.80,114.41 L370.02,114.86 L371.23,115.30 L372.44,115.73 L373.65,116.14 L374.86,116.54 L376.07,116.94 L377.28,117.32 L378.49,117.68 L379.70,118.05 L380.91,118.40 L382.12,118.74 L383.34,119.07 L384.55,119.40 L385.76,119.71 L386.97,120.02 L388.18,120.33 L389.39,120.62 L390.60,120.91 L391.81,121.20 L393.02,121.47 L394.23,121.75 L395.44,122.01 L396.66,122.27 L397.87,122.53 L399.08,122.78 L400.29,123.02 L401.50,123.26 L402.71,123.50 L403.92,123.73 L405.13,123.96 L406.34,124.18 L407.55,124.40 L408.76,124.61 L409.98,124.83 L411.19,125.03 L412.40,125.24 L413.61,125.44 L414.82,125.64 L416.03,125.83 L417.24,126.02 L418.45,126.21 L419.66,126.40 L420.87,126.58 L422.08,126.76 L423.30,126.93 L424.51,127.11 L425.72,127.28 L426.93,127.45 L428.14,127.62 L429.35,127.78 L430.56,127.94 L431.77,128.10 L432.98,128.26 L434.19,128.42 L435.41,128.57 L436.62,128.72 L437.83,128.87 L439.04,129.02 L440.25,129.16 L441.46,129.30 L442.67,129.45 L443.88,129.59 L445.09,129.72 L446.30,129.86 L447.51,130.00 L448.73,130.13 L449.94,130.26 L451.15,130.39 L452.36,130.52 L453.57,130.64 L454.78,130.77 L455.99,130.89 L457.20,131.02 L458.41,131.14 L459.62,131.26 L460.83,131.38 L462.05,131.49 L463.26,131.61 L464.47,131.72 L465.68,131.84 L466.89,131.95 L468.10,132.06" fill="none" stroke="#000" stroke-width="1.5"/>
<path d="M57.20,265.48 L58.53,277.36 L59.85,286.73 L61.18,294.36 L62.50,300.72 L63.83,306.12 L65.16,310.77 L66.48,314.84 L67.81,318.42 L69.13,321.61 L70.46,324.47 L71.79,327.06 L73.11,329.41 L74.44,331.56 L75.76,333.54 L77.09,335.36 L78.42,337.05 L79.74,338.61 L81.07,340.07 L82.39,341.44 L83.72,342.72 L85.05,343.92 L86.37,345.06 L87.70,346.12 L89.03,347.14 L90.35,348.10 L91.68,349.01 L93.00,349.87 L94.33,350.70 L95.66,351.48 L96.98,352.23 L98.31,352.95 L99.63,353.64 L100.96,354.30 L102.29,354.93 L103.61,355.54 L104.94,356.12 L106.26,356.68 L107.59,357.23 L108.92,357.75 L110.24,358.25 L111.57,358.74 L112.89,359.21 L114.22,359.66 L115.55,360.10 L116.87,360.53 L118.20,360.94 L119.52,361.34 L120.85,361.73 L122.18,362.11 L123.50,362.47 L124.83,362.83 L126.15,363.17 L127.48,363.51 L128.81,363.84 L130.13,364.16 L131.46,364.47 L132.78,364.77 L134.11,365.06 L135.44,365.35 L136.76,365.63 L138.09,365.90 L139.42,366.17 L140.74,366.43 L142.07,366.69 L143.39,366.94 L144.72,367.18 L146.05,367.42 L147.37,367.65 L148.70,367.88 L150.02,368.10 L151.35,368.32 L152.68,368.54 L154.00,368.75 L155.33,368.95 L156.65,369.15 L157.98,369.35 L159.31,369.54 L160.63,369.73 L161.96,369.92 L163.28,370.10 L164.61,370.28 L165.94,370.46 L167.26,370.63 L168.59,370.80 L169.91,370.97 L171.24,371.13 L172.57,371.29 L173.89,371.45 L175.22,371.61 L176.54,371.76 L177.87,371.91 L179.20,372.06 L180.52,372.21 L181.85,372.35 L183.17,372.49 L184.50,372.63 L185.83,372.77 L187.15,372.90 L188.48,373.03 L189.81,373.16 L191.13,373.29 L192.46,373.42 L193.78,373.54 L195.11,373.67 L196.44,373.79 L197.76,373.91 L199.09,374.02 L200.41,374.14 L201.74,374.25 L203.07,374.37 L204.39,374.48 L205.72,374.59 L207.04,374.70 L208.37,374.80 L209.70,374.91 L211.02,375.01 L212.35,375.12 L213.67,375.22 L215.00,375.32" fill="none" stroke="#000" stroke-width="1.5"/>
<path d="M316.80,293.16 L318.20,313.93 L319.61,324.97 L321.01,332.23 L322.41,337.53 L323.81,341.65 L325.22,344.99 L326.62,347.78 L328.02,350.15 L329.43,352.22 L330.83,354.03 L332.23,355.65 L333.64,357.10 L335.04,358.42 L336.44,359.63 L337.84,360.73 L339.25,361.75 L340.65,362.70 L342.05,363.58 L343.46,364.40 L344.86,365.18 L346.26,365.90 L347.66,366.59 L349.07,367.24 L350.47,367.85 L351.87,368.43 L353.28,368.99 L354.68,369.52 L356.08,370.03 L357.49,370.51 L358.89,370.97 L360.29,371.42 L361.69,371.85 L363.10,372.26 L364.50,372.65 L365.90,373.04 L367.31,373.40 L368.71,373.76 L370.11,374.10 L371.51,374.44 L372.92,374.76 L374.32,375.07 L375.72,375.37 L377.13,375.67 L378.53,375.95 L379.93,376.23 L381.34,376.50 L382.74,376.76 L384.14,377.02 L385.54,377.26 L386.95,377.51 L388.35,377.74 L389.75,377.97 L391.16,378.20 L392.56,378.42 L393.96,378.63 L395.36,378.84 L396.77,379.05 L398.17,379.25 L399.57,379.45 L400.98,379.64 L402.38,379.83 L403.78,380.01 L405.19,380.19 L406.59,380.37 L407.99,380.54 L409.39,380.71 L410.80,380.88 L412.20,381.04 L413.60,381.20 L415.01,381.36 L416.41,381.51 L417.81,381.67 L419.21,381.82 L420.62,381.96 L422.02,382.11 L423.42,382.25 L424.83,382.39 L426.23,382.53 L427.63,382.66 L429.04,382.79 L430.44,382.92 L431.84,383.05 L433.24,383.18 L434.65,383.30 L436.05,383.43 L437.45,383.55 L438.86,383.67 L440.26,383.79 L441.66,383.90 L443.06,384.02 L444.47,384.13 L445.87,384.24 L447.27,384.35 L448.68,384.46 L450.08,384.56 L451.48,384.67 L452.89,384.77 L454.29,384.87 L455.69,384.98 L457.09,385.08 L458.50,385.17 L459.90,385.27 L461.30,385.37 L462.71,385.46 L464.11,385.56 L465.51,385.65 L466.91,385.74 L468.32,385.83 L469.72,385.92 L471.12,386.01 L472.53,386.10 L473.93,386.18 L475.33,386.27 L476.74,386.35 L478.14,386.43 L479.54,386.52 L480.94,386.60 L482.35,386.68 L483.75,386.76" fill="none" stroke="#000" stroke-width="1.5"/>
</svg></body></html>
